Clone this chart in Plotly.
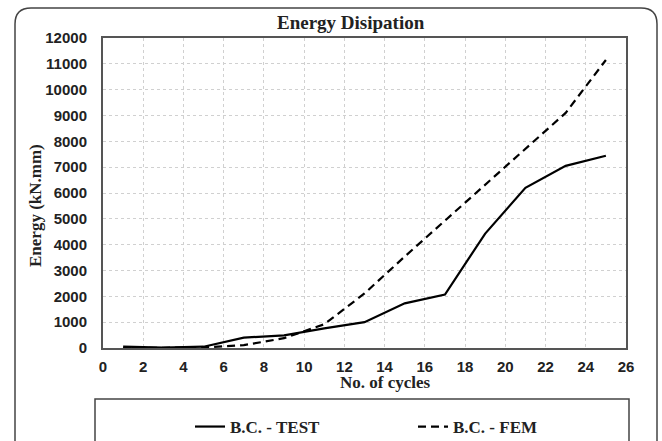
import plotly.graph_objects as go

cycles = [1, 3, 5, 7, 9, 11, 13, 15, 17, 19, 21, 23, 25]
test_energy = [50, 20, 50, 400, 490, 760, 1000, 1730, 2070, 4430, 6200, 7050, 7440]
fem_energy = [0, 0, 20, 110, 380, 920, 2110, 3540, 4930, 6320, 7680, 9100, 11150]

W, H = 662, 441
L, R, T, B = 103, 626, 38, 348  # plot area pixel bounds
pw, ph = R - L, B - T

def px(x):
    return (x - L) / pw

def py(y):
    return (B - y) / ph

fig = go.Figure()
fig.add_trace(go.Scatter(x=cycles, y=test_energy, mode="lines", name="B.C. - TEST",
                         line=dict(color="black", width=2.2)))
fig.add_trace(go.Scatter(x=cycles, y=fem_energy, mode="lines", name="B.C. - FEM",
                         line=dict(color="black", width=2.2, dash="8px,5px")))

tickfont = dict(family="Liberation Sans", size=15, color="#222", weight="bold")
serif = "Liberation Serif"

fig.update_xaxes(range=[0, 26], dtick=2, tick0=0, showgrid=True, gridcolor="#d0d0d0",
                 griddash="dot", gridwidth=1, showline=True, linecolor="#555", linewidth=2,
                 mirror=True, zeroline=False, ticks="", tickfont=tickfont, ticklabelstandoff=4)
fig.update_yaxes(range=[0, 12000], dtick=1000, tick0=0, tickformat="d", showgrid=True,
                 gridcolor="#d0d0d0", griddash="dot", gridwidth=1, showline=True,
                 linecolor="#555", linewidth=2, mirror=True, zeroline=False, ticks="",
                 tickfont=tickfont, ticklabelstandoff=11)

# outer rounded frame
x0, y0, x1, y1, r = 15, 8, 657, 470, 16
path = (f"M {px(x0)} {py(y0 + r)} Q {px(x0)} {py(y0)} {px(x0 + r)} {py(y0)} "
        f"L {px(x1 - r)} {py(y0)} Q {px(x1)} {py(y0)} {px(x1)} {py(y0 + r)} "
        f"L {px(x1)} {py(y1)} L {px(x0)} {py(y1)} Z")
shapes = [
    dict(type="path", xref="paper", yref="paper", path=path,
         line=dict(color="#444", width=1.5), fillcolor="rgba(0,0,0,0)", layer="below"),
    dict(type="rect", xref="paper", yref="paper", x0=px(95), x1=px(629), y0=py(399), y1=py(470),
         line=dict(color="#444", width=1.5), fillcolor="rgba(0,0,0,0)"),
]

annotations = [
    dict(text="Energy Disipation", x=px(351), y=py(22), xref="paper", yref="paper",
         showarrow=False, xanchor="center", yanchor="middle",
         font=dict(family=serif, size=19, color="#222", weight="bold")),
    dict(text="Energy (kN.mm)", x=px(35), y=py(206), xref="paper", yref="paper",
         showarrow=False, textangle=-90, xanchor="center", yanchor="middle",
         font=dict(family=serif, size=17, color="#222", weight="bold")),
    dict(text="No. of cycles", x=px(385), y=py(383), xref="paper", yref="paper",
         showarrow=False, xanchor="center", yanchor="middle",
         font=dict(family=serif, size=17, color="#222", weight="bold")),
]

fig.update_layout(
    width=W, height=H, margin=dict(l=L, r=W - R, t=T, b=H - B, autoexpand=False),
    paper_bgcolor="white", plot_bgcolor="white",
    shapes=shapes, annotations=annotations,
    showlegend=True,
    legend=dict(orientation="h", x=190 / W, y=1 - 427 / H, xanchor="left", yanchor="middle",
                xref="container", yref="container", entrywidth=178, entrywidthmode="pixels",
                font=dict(family=serif, size=17, color="#222", weight="bold"),
                bgcolor="rgba(0,0,0,0)", itemwidth=30),
)

fig.write_html("out.html")
